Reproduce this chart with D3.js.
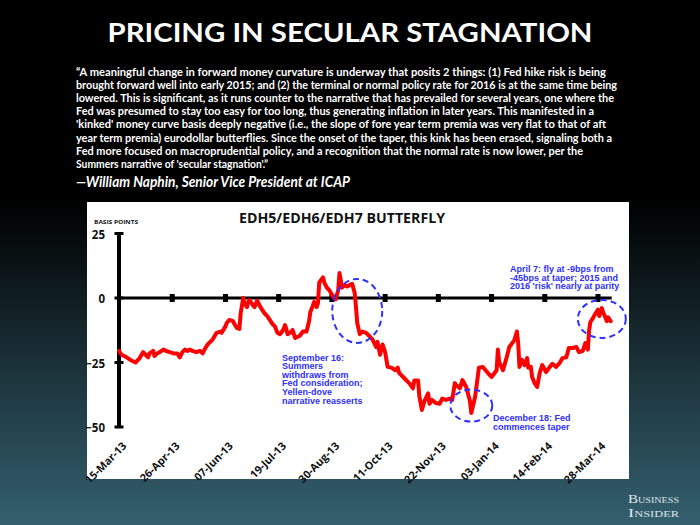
<!DOCTYPE html>
<html><head><meta charset="utf-8">
<script src="https://cdn.jsdelivr.net/npm/d3@7"></script>
<style>body{margin:0;background:#000;} svg{display:block}</style>
</head><body><svg id="c" width="700" height="525"></svg>
<script>
// ---------- DATA ----------
const startDate = "2013-03-15";
const dayOffsets = [0,2,6,9,11,13,16,19,21,23,24,27,28,30,32,35,37,40,43,46,48,50,52,54,56,58,61,64,66,68,70,72,74,77,80,81,84,85,87,90,91,93,95,96,98,99,101,102,103,106,107,109,111,113,115,117,119,121,123,125,127,128,130,131,132,133,135,137,139,141,143,145,148,150,151,153,154,156,157,158,161,162,164,166,169,171,173,174,176,178,180,182,184,186,187,188,190,192,195,196,198,200,203,204,206,208,210,212,215,218,220,221,225,227,229,232,233,236,237,239,241,244,245,247,250,253,255,258,261,263,265,266,269,271,274,277,278,281,283,284,287,291,294,298,299,300,303,306,308,312,314,315,316,318,320,322,323,325,326,328,330,332,334,337,340,342,345,348,350,353,355,358,361,363,366,368,370,371,372,374,376,378,379,381,382,383,385,386,388];
const flyValues = [-20.5,-22,-23,-24,-24.5,-25,-23.5,-21,-22,-23,-21.5,-20.5,-22.5,-21.5,-21,-20,-20.5,-21,-21.5,-21.5,-23,-21,-20,-20.5,-20,-20.5,-21,-20.5,-21.5,-19.5,-18,-17,-16,-13.5,-13,-13.5,-11,-9.7,-8.5,-9,-10,-11.6,-12,-6,0,-2,-3.5,-1.5,-0.8,-3,-3.5,-1,-3,-4.6,-6,-7,-8.5,-10,-11,-13.5,-14,-13.5,-12,-10.5,-12,-14,-13.5,-12.4,-15.5,-15,-14.5,-13,-13,-9,-5.4,-3,-1.5,-3.5,-2,6,8,6,4,3,0.5,-0.5,3,9.7,4,5,4.5,5,5.5,2,-3.5,-9.7,-14,-13,-13.5,-14,-15,-16,-19,-17,-22,-18,-21,-26.7,-27,-28,-27,-29,-31,-32,-33,-35,-32,-32,-38,-43.4,-40,-37,-41,-39.5,-40.7,-41,-39,-39.5,-39,-39.5,-33,-33.7,-35,-31.8,-34.5,-40,-44.6,-38.4,-31,-27,-26.7,-29,-30.6,-28,-20,-24.8,-28,-22.9,-19,-16.3,-13,-17.4,-26.7,-24,-26,-23.3,-27,-26.7,-30.6,-33,-34.5,-29,-26,-28.7,-26.7,-25.5,-26.7,-25,-23.3,-23,-19.4,-19.4,-19,-21,-20.5,-17.5,-20,-12.4,-9.3,-7.8,-6,-4.5,-7,-3.9,-5.5,-6.6,-9,-7.5,-9];
const tickLabels = ["15-Mar-13","26-Apr-13","07-Jun-13","19-Jul-13","30-Aug-13","11-Oct-13","22-Nov-13","03-Jan-14","14-Feb-14","28-Mar-14"];
const yTicks = [25,0,-25,-50];
const titleText = "PRICING IN SECULAR STAGNATION";
const quoteLines = [
 "\u201CA meaningful change in forward money curvature is underway that posits 2 things: (1) Fed hike risk is being",
 "brought forward well into early 2015; and (2) the terminal or normal policy rate for 2016 is at the same time being",
 "lowered. This is significant, as it runs counter to the narrative that has prevailed for several years, one where the",
 "Fed was presumed to stay too easy for too long, thus generating inflation in later years. This manifested in a",
 "'kinked' money curve basis deeply negative (i.e., the slope of fore year term premia was very flat to that of aft",
 "year term premia) eurodollar butterflies. Since the onset of the taper, this kink has been erased, signaling both a",
 "Fed more focused on macroprudential policy, and a recognition that the normal rate is now lower, per the",
 "Summers narrative of 'secular stagnation'.\u201D"
];
const attribution = "\u2014William Naphin, Senior Vice President at ICAP";
const chartTitle = "EDH5/EDH6/EDH7 BUTTERFLY";
const yAxisTitle = "BASIS POINTS";
// annotations: centre day offset & value
const circleDays = [188, 278, 381];
const circleValues = [-5, -41.7, -8.1];
const noteSep = ["September 16:","Summers","withdraws from","Fed consideration;","Yellen-dove","narrative reasserts"];
const noteDec = ["December 18: Fed","commences taper"];
const noteApr = ["April 7: fly at -9bps from","-45bps at taper; 2015 and","2016 'risk' nearly at parity"];

// ---------- LAYOUT ----------
const W = 700, H = 525;
const svg = d3.select("#c");
const defs = svg.append("defs");
const grad = defs.append("linearGradient").attr("id","bg").attr("x1",0).attr("y1",0).attr("x2",0).attr("y2",1);
grad.append("stop").attr("offset","0%").attr("stop-color","#000");
grad.append("stop").attr("offset","38%").attr("stop-color","#000");
grad.append("stop").attr("offset","100%").attr("stop-color","#34606f");
svg.append("rect").attr("width",W).attr("height",H).attr("fill","url(#bg)");

// title
svg.append("text").attr("x",350).attr("y",42).attr("text-anchor","middle")
  .attr("fill","#fff").attr("font-family","Lato, 'Open Sans', sans-serif").attr("font-weight","bold")
  .attr("font-size",27).attr("textLength",485).attr("lengthAdjust","spacingAndGlyphs").text(titleText);

// quote
const qWidths = [530,541,538,518,530,536,507,192];
svg.append("g").selectAll("text").data(quoteLines).join("text")
  .attr("x",76).attr("y",(d,i)=>76+i*13.1)
  .attr("fill","#fff").attr("font-family","Lato, sans-serif").attr("font-weight","bold")
  .attr("font-size",11.6).attr("textLength",(d,i)=>qWidths[i]).attr("lengthAdjust","spacingAndGlyphs")
  .text(d=>d);
svg.append("text").attr("x",76).attr("y",187).attr("fill","#fff")
  .attr("font-family","Lato, sans-serif").attr("font-weight","bold").attr("font-style","italic")
  .attr("font-size",15).attr("textLength",274).attr("lengthAdjust","spacingAndGlyphs").text(attribution);

// panel
svg.append("rect").attr("x",87).attr("y",202).attr("width",542).attr("height",277).attr("fill","#fff");

// scales
const t0 = d3.timeParse("%Y-%m-%d")(startDate);
const parseTick = d3.timeParse("%d-%b-%y");
const tickDates = tickLabels.map(parseTick);
const x = d3.scaleTime().domain([tickDates[0], tickDates[tickDates.length-1]]).range([119,598]);
const y = d3.scaleLinear().domain([-50,25]).range([427,233.5]);
const series = dayOffsets.map((d,i)=>({date:d3.timeDay.offset(t0,d), v:flyValues[i]}));
const lastDate = series[series.length-1].date;

// chart title & y title
svg.append("text").attr("x",342).attr("y",223).attr("text-anchor","middle")
  .attr("font-family","'Open Sans', sans-serif").attr("font-weight","bold").attr("font-size",13.5)
  .attr("textLength",206).attr("lengthAdjust","spacingAndGlyphs").attr("fill","#111").text(chartTitle);
svg.append("text").attr("x",94).attr("y",223.5)
  .attr("font-family","'Open Sans', sans-serif").attr("font-weight","bold").attr("font-size",5.5)
  .attr("textLength",44).attr("lengthAdjust","spacingAndGlyphs").attr("fill","#111").text(yAxisTitle);

// y axis via d3 axis (labels)
const yAxis = d3.axisLeft(y).tickValues(yTicks).tickSize(0).tickPadding(14).tickFormat(d3.format("d"));
const gy = svg.append("g").attr("transform",`translate(${x(tickDates[0])},0)`).call(yAxis);
gy.select(".domain").remove();
gy.selectAll("text").attr("font-family","'Open Sans', sans-serif").attr("font-weight","bold")
  .attr("font-size",11.5).attr("fill","#111").attr("dy","0.4em");
// y axis line and caps
const ax0 = x(tickDates[0]);
svg.append("line").attr("x1",ax0).attr("x2",ax0).attr("y1",y(25)).attr("y2",y(-50))
  .attr("stroke","#000").attr("stroke-width",4);
svg.append("g").selectAll("line").data(yTicks).join("line")
  .attr("x1",ax0-4.5).attr("x2",ax0+4.5).attr("y1",d=>y(d)).attr("y2",d=>y(d))
  .attr("stroke","#000").attr("stroke-width",3);

// zero line with square tick markers
svg.append("line").attr("x1",ax0-2).attr("x2",x(lastDate)+1).attr("y1",y(0)).attr("y2",y(0))
  .attr("stroke","#000").attr("stroke-width",3);
svg.append("g").selectAll("rect").data(tickDates.slice(1)).join("rect")
  .attr("x",d=>x(d)-2.5).attr("y",y(0)-4).attr("width",5).attr("height",8).attr("fill","#000");

// x labels via d3 axis
const xAxis = d3.axisBottom(x).tickValues(tickDates).tickSize(0).tickFormat((d,i)=>tickLabels[i]);
const gx = svg.append("g").attr("transform","translate(0,444)").call(xAxis);
gx.select(".domain").remove();
gx.selectAll("text").attr("y",0).attr("x",0).attr("dy","0.35em")
  .attr("transform","translate(5,0) rotate(-45)").attr("text-anchor","end")
  .attr("font-family","'Open Sans', sans-serif").attr("font-weight","bold").attr("font-size",10.8).attr("fill","#111");

// red line
svg.append("path").datum(series)
  .attr("d", d3.line().x(d=>x(d.date)).y(d=>y(d.v)))
  .attr("fill","none").attr("stroke","#ff0000").attr("stroke-width",4)
  .attr("stroke-linejoin","round").attr("stroke-linecap","round");

// annotation ellipses
const blue = "#2f2fff";
const radii = [[25,32],[21,16],[24,19]];
svg.append("g").selectAll("ellipse").data(circleDays).join("ellipse")
  .attr("cx",d=>x(d3.timeDay.offset(t0,d))).attr("cy",(d,i)=>y(circleValues[i]))
  .attr("rx",(d,i)=>radii[i][0]).attr("ry",(d,i)=>radii[i][1])
  .attr("fill","none").attr("stroke",blue).attr("stroke-width",2).attr("stroke-dasharray","6,4");

function note(lines, x0, y0, lh){
  svg.append("g").selectAll("text").data(lines).join("text")
    .attr("x",x0).attr("y",(d,i)=>y0+i*lh)
    .attr("font-family","'Liberation Sans', Arial, sans-serif").attr("font-weight","bold")
    .attr("font-size",9).attr("fill",blue).text(d=>d);
}
note(noteSep, 282, 360.5, 8.6);
note(noteDec, 493, 421, 8.8);
note(noteApr, 510, 272, 8.6);

// Business Insider logo
const logo = svg.append("g").attr("font-family","'Liberation Serif', 'DejaVu Serif', serif").attr("fill","#dfe6e8");
logo.append("text").attr("x",628).attr("y",503).attr("font-size",13.5).style("font-variant","small-caps")
  .attr("textLength",51).attr("lengthAdjust","spacingAndGlyphs").text("Business");
logo.append("text").attr("x",628).attr("y",517).attr("font-size",13.5).style("font-variant","small-caps")
  .attr("textLength",51).attr("lengthAdjust","spacingAndGlyphs").text("Insider");
</script></body></html>
